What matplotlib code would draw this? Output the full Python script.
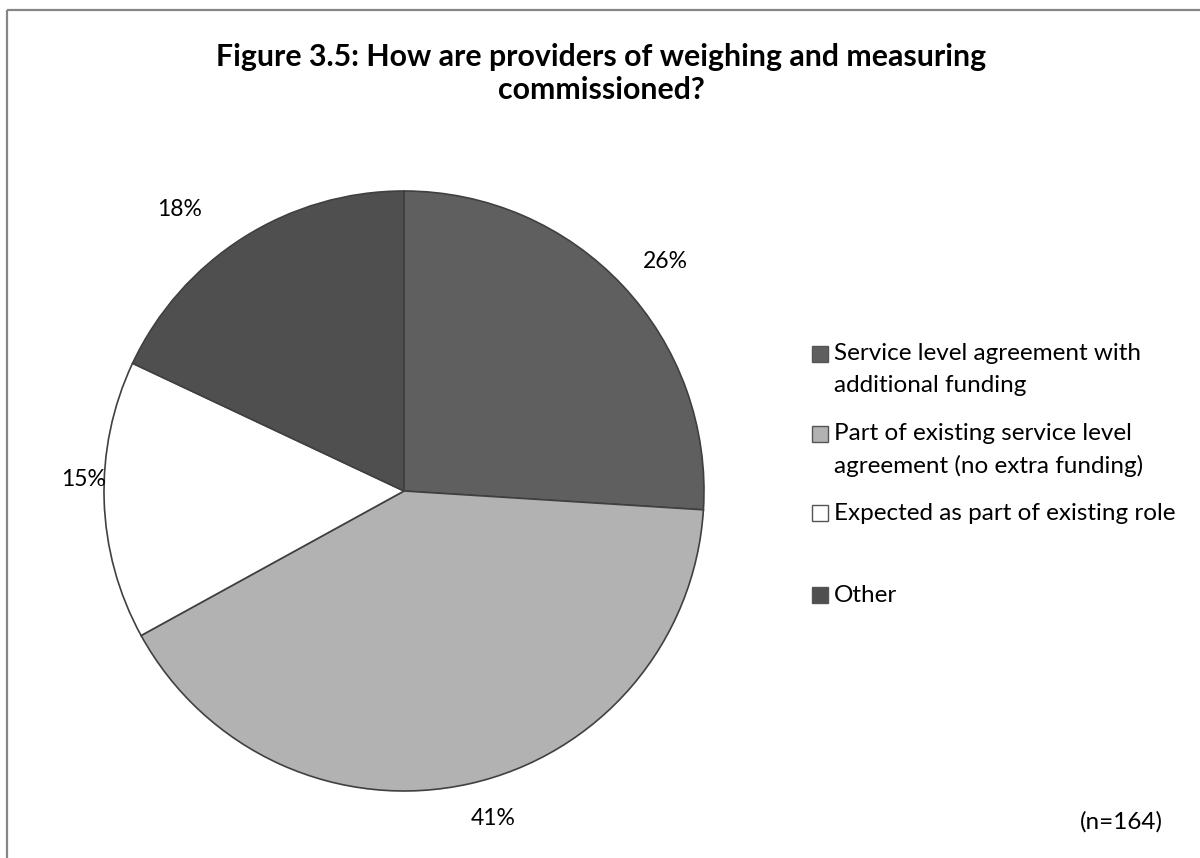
import matplotlib

matplotlib.use("Agg")

import matplotlib.pyplot as plt
import numpy as np
from matplotlib.patches import Rectangle

# Commissioning routes for weighing and measuring providers (n=164)
categories = [
    "Service level agreement with\nadditional funding",
    "Part of existing service level\nagreement (no extra funding)",
    "Expected as part of existing role",
    "Other",
]
shares = [26, 41, 15, 18]
sample_note = "(n=164)"
title = "Figure 3.5: How are providers of weighing and measuring\ncommissioned?"

slice_colors = ["#5f5f5f", "#b2b2b2", "#ffffff", "#4f4f4f"]
# data label placement: radius (in pie radii) and angular nudge (deg) from slice middle
label_radius = [1.16, 1.13, 1.07, 1.20]
label_nudge = [-2.0, 2.6, -3.8, 6.1]
legend_rows = [354, 434, 513, 595]  # pixel rows of each legend key

plt.rcParams["font.family"] = ["Lato", "DejaVu Sans"]

W, H = 1200, 858
fig = plt.figure(figsize=(W / 100, H / 100), dpi=100)
fig.patch.set_facecolor("white")

# overlay in pixel coordinates (y grows downward) for frame, title and legend
over = fig.add_axes([0, 0, 1, 1])
over.set_xlim(0, W)
over.set_ylim(H, 0)
over.axis("off")
over.add_patch(Rectangle((7, 10), W + 20, H + 20, fill=False, edgecolor="#868686", linewidth=1.6))

over.text(601, 73.5, title, ha="center", va="center", fontsize=21.8, fontweight="bold",
          linespacing=1.25, color="black")

for label, color, row in zip(categories, slice_colors, legend_rows):
    over.add_patch(Rectangle((812, row - 8), 16, 16, facecolor=color, edgecolor="#555555", linewidth=1.0))
    for i, line in enumerate(label.split("\n")):
        over.text(834, row + i * 32, line, ha="left", va="center", fontsize=17.5, color="black")

note = over.text(1121, 822, sample_note, ha="center", va="center", fontsize=17.5, color="black")
note.set_clip_path(Rectangle((0, 0), W, 829, transform=over.transData))

# pie: centre (404, 491) px, radius 300 px
cx, cy, r = 404, 491, 300
ax = fig.add_axes([(cx - r) / W, (H - cy - r) / H, 2 * r / W, 2 * r / H])
wedges, _ = ax.pie(
    shares,
    colors=slice_colors,
    startangle=90,
    counterclock=False,
    radius=1.0,
    wedgeprops={"edgecolor": "#404040", "linewidth": 1.2},
)
for wedge, value, dist, nudge in zip(wedges, shares, label_radius, label_nudge):
    mid = np.deg2rad((wedge.theta1 + wedge.theta2) / 2 + nudge)
    ax.text(dist * np.cos(mid), dist * np.sin(mid), f"{value}%", ha="center", va="center",
            fontsize=16.5, color="black")
ax.set_xlim(-1, 1)
ax.set_ylim(-1, 1)
ax.set_aspect("equal")
ax.axis("off")

fig.savefig("out.png", dpi=100, facecolor="white")
